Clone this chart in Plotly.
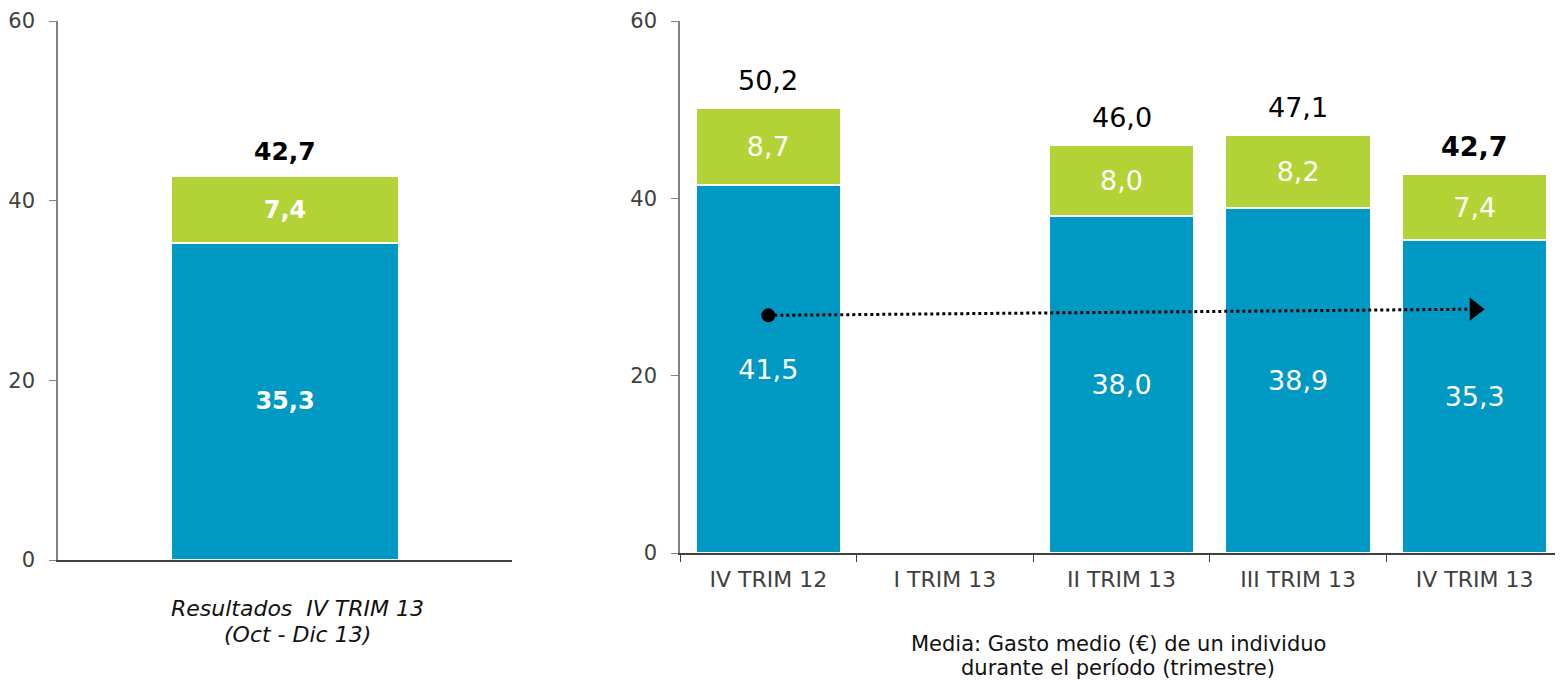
import plotly.graph_objects as go

# left panel: current quarter
left_cat = ["IV TRIM 13"]
left_base = [35.3]
left_top = [7.4]
left_total = [42.7]

# right panel: quarterly evolution
quarters = ["IV TRIM 12", "I TRIM 13", "II TRIM 13", "III TRIM 13", "IV TRIM 13"]
base = [41.5, None, 38.0, 38.9, 35.3]
top = [8.7, None, 8.0, 8.2, 7.4]
total = [50.2, None, 46.0, 47.1, 42.7]

trend_x = ["IV TRIM 12", "IV TRIM 13"]
trend_y = [26.8, 27.5]

left_caption = ["<i>Resultados  IV TRIM 13</i>", "<i>(Oct - Dic 13)</i>"]
right_caption = ["Media: Gasto medio (€) de un individuo", "durante el período (trimestre)"]

BLUE = "#0099C4"
GREEN = "#B2D235"
FONT = "DejaVu Sans"

# page has an 8px body margin, so the figure is drawn 8px in from the corner
W, H = 1555, 672


def fmt(v, bold=False):
    if v is None:
        return ""
    s = f"{v:.1f}".replace(".", ",")
    return f"<b>{s}</b>" if bold else s


fig = go.Figure()

# left stacked bar (bold labels)
for vals, col in ((left_base, BLUE), (left_top, GREEN)):
    fig.add_trace(go.Bar(
        x=left_cat, y=vals, xaxis="x", yaxis="y",
        marker=dict(color=col, line=dict(color="white", width=1.5)),
        text=[fmt(v, True) for v in vals], textposition="inside",
        insidetextanchor="middle",
        textfont=dict(color="white", size=24, family=FONT),
        width=0.5, hoverinfo="skip",
    ))

# right stacked bars
for vals, col in ((base, BLUE), (top, GREEN)):
    fig.add_trace(go.Bar(
        x=quarters, y=vals, xaxis="x2", yaxis="y2",
        marker=dict(color=col, line=dict(color="white", width=1.5)),
        text=[fmt(v) for v in vals], textposition="inside",
        insidetextanchor="middle",
        textfont=dict(color="white", size=27, family=FONT),
        hoverinfo="skip",
    ))

# dotted trend arrow
fig.add_trace(go.Scatter(
    x=trend_x, y=trend_y, xaxis="x2", yaxis="y2",
    mode="lines+markers",
    line=dict(color="black", width=3, dash="dot"),
    marker=dict(color="black", size=[14, 20], symbol=["circle", "triangle-right"],
                line=dict(width=0), opacity=1),
    hoverinfo="skip",
))

annotations = []
for c, t in zip(left_cat, left_total):
    annotations.append(dict(
        x=c, y=t, xref="x", yref="y", text=fmt(t, True), showarrow=False,
        yanchor="bottom", yshift=8, font=dict(size=25, color="black", family=FONT),
    ))
for i, (c, t) in enumerate(zip(quarters, total)):
    if t is None:
        continue
    annotations.append(dict(
        x=c, y=t, xref="x2", yref="y2", text=fmt(t, i == len(quarters) - 1),
        showarrow=False, yanchor="bottom", yshift=10,
        font=dict(size=27, color="black", family=FONT),
    ))

for txt, yc in zip(left_caption, [600, 626]):
    annotations.append(dict(
        x=289 / W, y=1 - yc / H, xref="paper", yref="paper", showarrow=False,
        xanchor="center", yanchor="middle", text=txt,
        font=dict(size=22, color="#111111", family=FONT),
    ))
for txt, yc in zip(right_caption, [636, 660]):
    annotations.append(dict(
        x=1110 / W, y=1 - yc / H, xref="paper", yref="paper", showarrow=False,
        xanchor="center", yanchor="middle", text=txt,
        font=dict(size=21, color="#111111", family=FONT),
    ))

yaxis_common = dict(
    range=[0, 60], tickvals=[0, 20, 40, 60], showgrid=False, zeroline=False,
    showline=True, linecolor="#808080", linewidth=1.5, automargin=False,
    ticks="outside", ticklen=7, tickcolor="#808080", ticklabelstandoff=10,
    ticklabeloverflow="allow",
    tickfont=dict(size=21, color="#404040", family=FONT),
)

fig.update_layout(
    width=W, height=H,
    margin=dict(l=0, r=0, t=0, b=0),
    paper_bgcolor="white", plot_bgcolor="white",
    barmode="stack", bargap=0.18, showlegend=False,
    font=dict(family=FONT),
    xaxis=dict(domain=[50 / W, 504 / W], showticklabels=False, showline=True,
               linecolor="#404040", linewidth=1.5, ticks="", anchor="y",
               automargin=False),
    yaxis=dict(domain=[1 - 552 / H, 1 - 13 / H], anchor="x", **yaxis_common),
    xaxis2=dict(domain=[672 / W, 1.0], anchor="y2", showline=True,
                linecolor="#404040", linewidth=1.5, ticks="outside",
                tickson="boundaries", ticklen=7, tickcolor="#404040",
                ticklabelstandoff=6,
                categoryorder="array", categoryarray=quarters, automargin=False,
                tickfont=dict(size=22, color="#404040", family=FONT)),
    yaxis2=dict(domain=[1 - 545 / H, 1 - 13 / H], anchor="x2", **yaxis_common),
    annotations=annotations,
)

fig.write_html("out.html")
